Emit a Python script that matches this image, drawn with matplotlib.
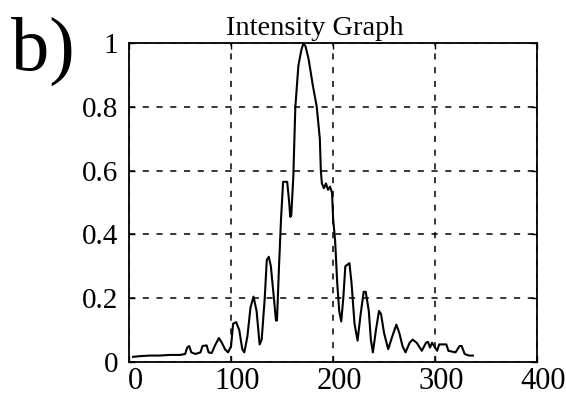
import numpy as np
import matplotlib.pyplot as plt
from matplotlib.transforms import ScaledTranslation

plt.rcParams['font.family'] = ['Liberation Serif', 'DejaVu Serif']

# intensity profile
pos = [4, 10, 20, 30, 40, 50, 55, 57, 59, 61, 65, 70, 72, 76, 78, 81, 84, 88, 91, 94,
       97, 100, 102, 105, 108, 111, 113, 116, 119, 122, 125, 128, 130, 133, 135, 137,
       139, 142, 144, 145, 147, 149, 151, 155, 157, 158, 159, 161, 163, 166, 169, 171,
       173, 176, 180, 184, 187, 188, 189, 191, 193, 195, 197, 199, 200, 202, 204, 206,
       208, 210, 212, 216, 218, 221, 224, 227, 230, 232, 235, 237, 239, 242, 245, 247,
       250, 254, 258, 262, 265, 268, 271, 275, 278, 282, 287, 291, 293, 295, 297, 299,
       302, 304, 311, 313, 320, 324, 326, 329, 333, 337]
inten = [0.016, 0.018, 0.02, 0.02, 0.022, 0.022, 0.025, 0.045, 0.05, 0.03, 0.025, 0.03,
         0.05, 0.052, 0.03, 0.028, 0.05, 0.075, 0.06, 0.04, 0.03, 0.05, 0.12, 0.125, 0.1,
         0.04, 0.03, 0.08, 0.17, 0.205, 0.16, 0.055, 0.07, 0.2, 0.32, 0.33, 0.3, 0.2, 0.13,
         0.13, 0.3, 0.45, 0.565, 0.565, 0.5, 0.455, 0.46, 0.58, 0.8, 0.93, 0.98, 1.0, 0.99,
         0.95, 0.87, 0.8, 0.7, 0.6, 0.56, 0.545, 0.56, 0.54, 0.55, 0.53, 0.45, 0.38, 0.25,
         0.16, 0.127, 0.2, 0.3, 0.31, 0.25, 0.12, 0.067, 0.15, 0.22, 0.22, 0.16, 0.07, 0.03,
         0.1, 0.16, 0.15, 0.09, 0.04, 0.08, 0.117, 0.09, 0.05, 0.03, 0.06, 0.07, 0.06, 0.035,
         0.06, 0.063, 0.045, 0.06, 0.05, 0.035, 0.055, 0.055, 0.035, 0.03, 0.05, 0.05, 0.025,
         0.02, 0.02]

xticks = [0, 100, 200, 300, 400]
yticks = [0, 0.2, 0.4, 0.6, 0.8, 1]
yticklabels = ['0', '0.2', '0.4', '0.6', '0.8', '1']

fig = plt.figure(figsize=(5.66, 3.96), dpi=100)
ax = fig.add_axes([0.228, 0.086, 0.721, 0.805])
ax.plot(pos, inten, color='black', lw=1.5)
ax.set_xlim(0, 400)
ax.set_ylim(0, 1)
ax.set_xticks(xticks)
ax.set_yticks(yticks)
ax.set_yticklabels(yticklabels)
ax.tick_params(direction='in', length=4, width=1, top=True, right=True, colors='black')
ax.tick_params(axis='x', labelsize=22, pad=4)
ax.tick_params(axis='y', labelsize=21, pad=8)
# x labels sit a bit right of their ticks in the original
off = ScaledTranslation(6 / 100, 0, fig.dpi_scale_trans)
for lab in ax.get_xticklabels():
    lab.set_transform(lab.get_transform() + off)
ax.grid(True, color='black', linestyle=(0, (4, 5)), linewidth=1.1)
for s in ax.spines.values():
    s.set_linewidth(1.3)
ax.text(0.456, 1.025, 'Intensity Graph', transform=ax.transAxes, ha='center',
        va='baseline', fontsize=20.5)
fig.text(0.02, 0.823, 'b)', fontsize=55, va='baseline')

fig.savefig('out.png', dpi=100)
